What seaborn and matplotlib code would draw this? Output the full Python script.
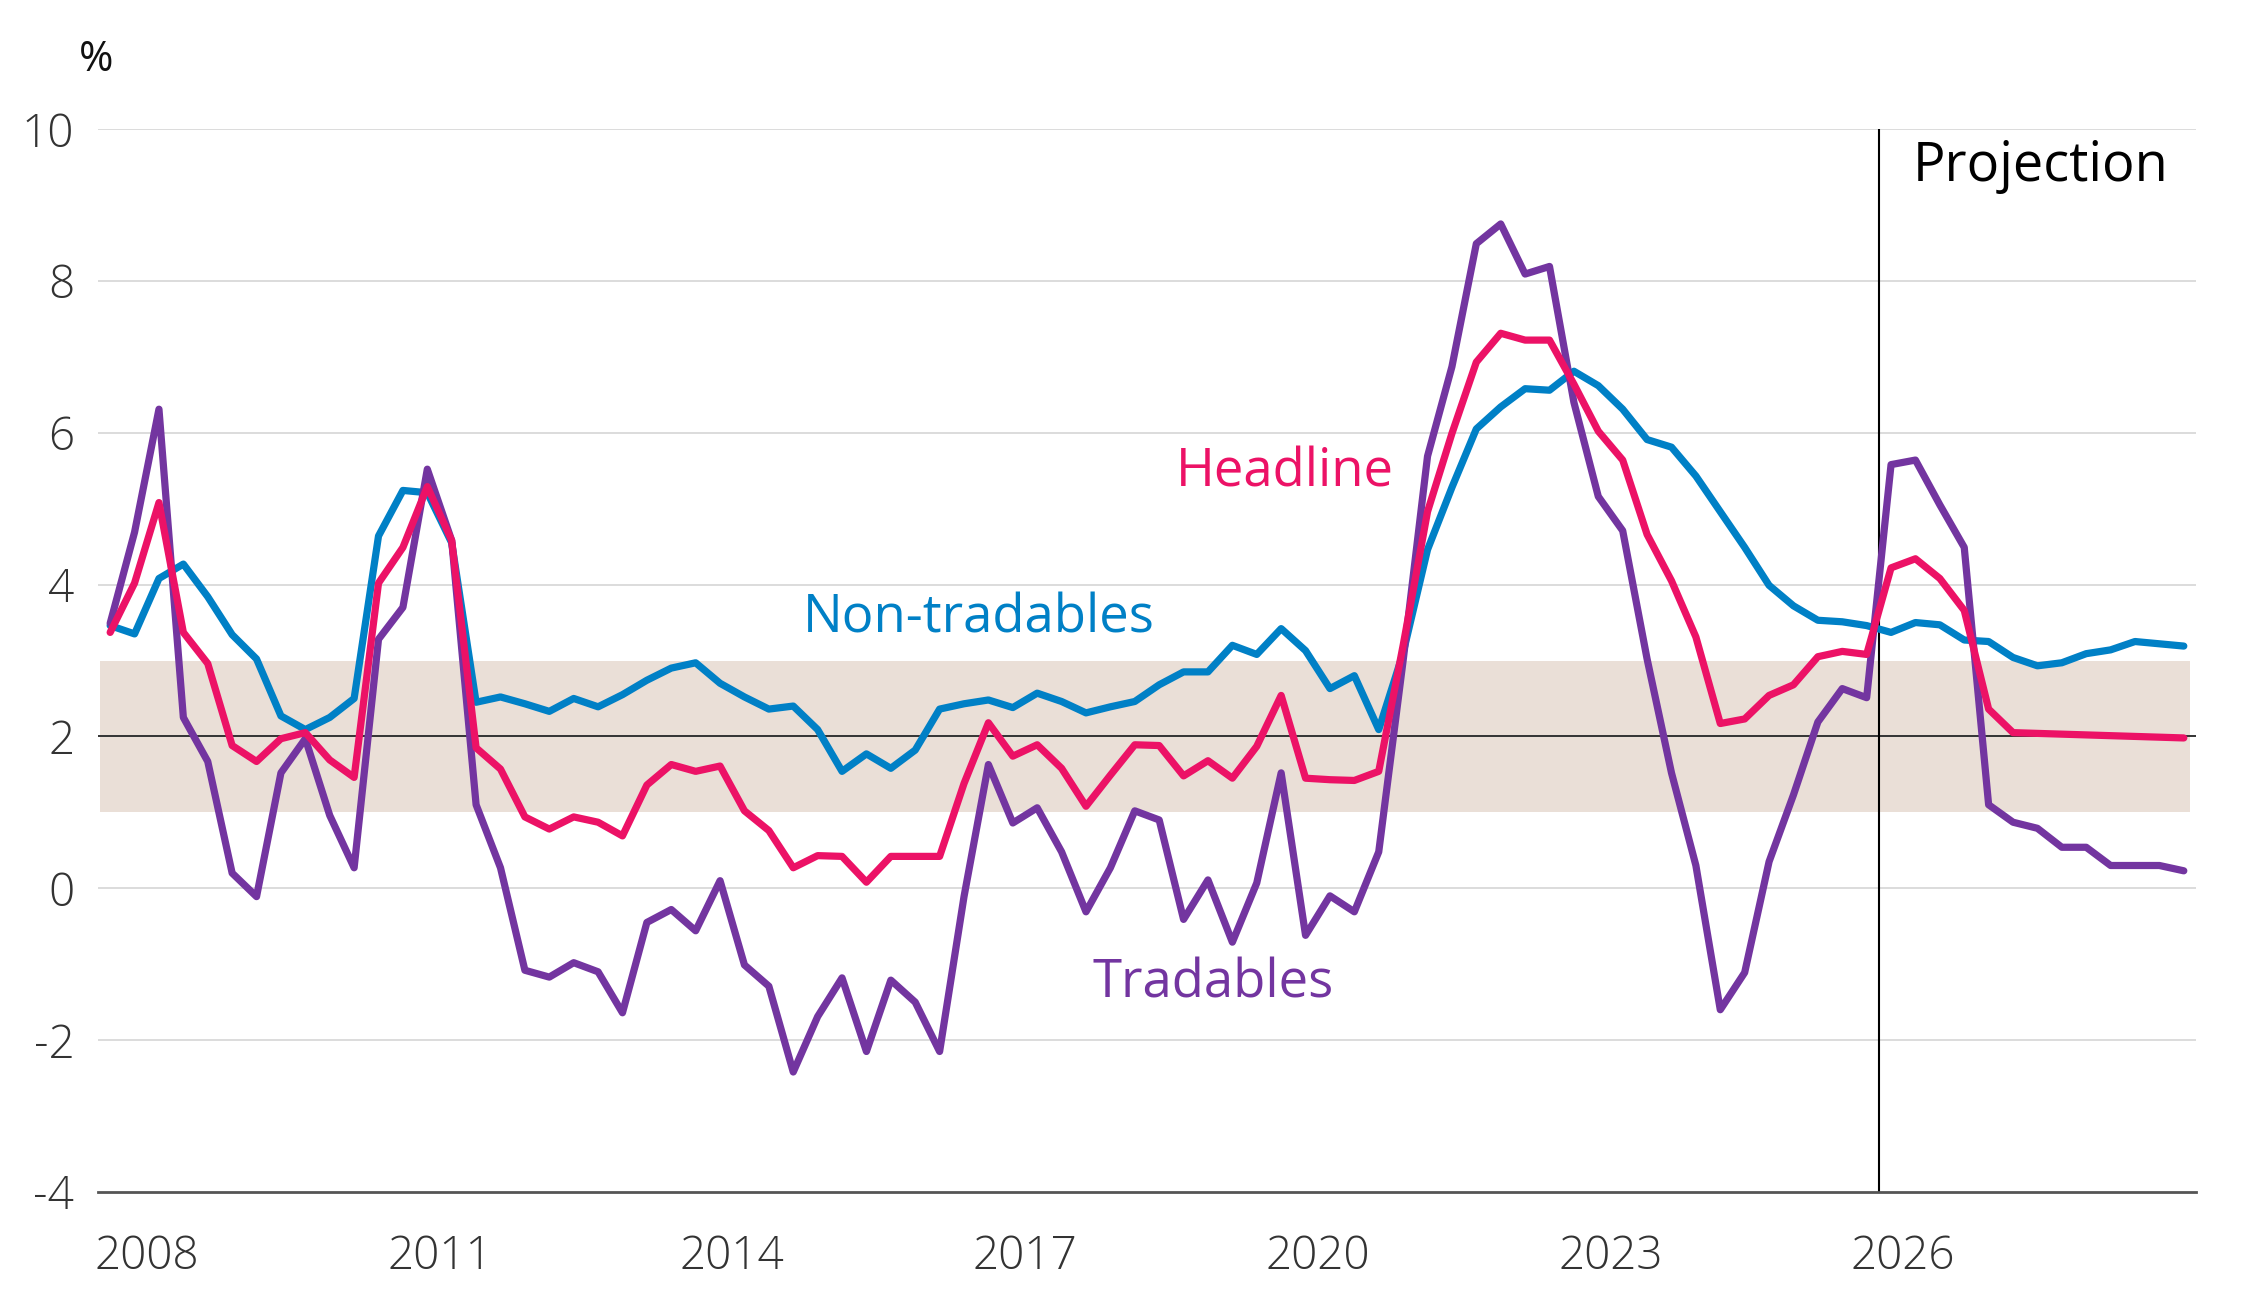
import numpy as np
import pandas as pd
import matplotlib
matplotlib.use("Agg")
import matplotlib.pyplot as plt
import seaborn as sns

sns.set_style("white")
plt.rcParams['font.family'] = ['Open Sans', 'DejaVu Sans']

# quarterly data, 2008Q1 .. 2029Q2
years = np.repeat(np.arange(2008, 2030), 4)[:86]
qtrs = np.tile([1, 2, 3, 4], 22)[:86]

non_tradables = [3.46, 3.35, 4.08, 4.27, 3.84, 3.34, 3.02, 2.27, 2.09, 2.25,
                 2.5, 4.64, 5.24, 5.21, 4.55, 2.45, 2.52, 2.43, 2.33, 2.5,
                 2.39, 2.55, 2.74, 2.9, 2.97, 2.7, 2.52, 2.36, 2.4, 2.09,
                 1.54, 1.77, 1.58, 1.82, 2.36, 2.43, 2.48, 2.38, 2.57, 2.46,
                 2.31, 2.39, 2.46, 2.68, 2.85, 2.85, 3.2, 3.08, 3.42, 3.13,
                 2.63, 2.8, 2.09, 3.1, 4.46, 5.28, 6.05, 6.34, 6.58, 6.56,
                 6.81, 6.62, 6.31, 5.91, 5.81, 5.43, 4.96, 4.49, 3.99, 3.72,
                 3.53, 3.51, 3.46, 3.37, 3.5, 3.47, 3.27, 3.25, 3.04, 2.93,
                 2.97, 3.09, 3.14, 3.25, 3.22, 3.19]
headline = [3.37, 4.02, 5.08, 3.37, 2.96, 1.88, 1.67, 1.97, 2.05, 1.69,
            1.46, 4.02, 4.49, 5.29, 4.58, 1.85, 1.57, 0.94, 0.78, 0.94,
            0.87, 0.69, 1.36, 1.63, 1.54, 1.61, 1.02, 0.76, 0.27, 0.43,
            0.42, 0.08, 0.42, 0.42, 0.42, 1.38, 2.18, 1.74, 1.89, 1.58,
            1.08, 1.49, 1.89, 1.88, 1.48, 1.68, 1.45, 1.87, 2.54, 1.45,
            1.43, 1.42, 1.54, 3.2, 4.96, 5.99, 6.93, 7.31, 7.22, 7.22,
            6.64, 6.02, 5.64, 4.66, 4.05, 3.31, 2.17, 2.23, 2.54, 2.68,
            3.05, 3.12, 3.08, 4.22, 4.34, 4.08, 3.66, 2.36, 2.05, 2.04,
            2.03, 2.02, 2.01, 2.0, 1.99, 1.98]
tradables = [3.49, 4.69, 6.31, 2.25, 1.67, 0.2, -0.11, 1.52, 1.97, 0.96,
             0.27, 3.28, 3.7, 5.52, 4.58, 1.1, 0.27, -1.08, -1.17, -0.98,
             -1.1, -1.64, -0.45, -0.28, -0.56, 0.1, -1.01, -1.29, -2.42, -1.69,
             -1.18, -2.15, -1.21, -1.5, -2.15, -0.11, 1.63, 0.86, 1.06, 0.48,
             -0.31, 0.27, 1.02, 0.9, -0.41, 0.11, -0.71, 0.07, 1.52, -0.62,
             -0.1, -0.31, 0.48, 3.0, 5.69, 6.87, 8.49, 8.75, 8.09, 8.19,
             6.4, 5.16, 4.71, 3.02, 1.52, 0.3, -1.6, -1.11, 0.35, 1.23,
             2.19, 2.63, 2.51, 5.58, 5.64, 5.05, 4.49, 1.1, 0.87, 0.79,
             0.54, 0.54, 0.3, 0.3, 0.3, 0.23]

series_names = ["Non-tradables", "Tradables", "Headline"]
colors = {"Non-tradables": "#0080C6", "Tradables": "#7335A0", "Headline": "#EC1266"}

x = years + (qtrs - 0.5) / 4
df = pd.DataFrame({"x": x, "Non-tradables": non_tradables,
                   "Tradables": tradables, "Headline": headline})
long = df.melt(id_vars="x", value_vars=series_names, var_name="series", value_name="value")

fig = plt.figure(figsize=(22.47, 13.1), dpi=100)
ax = fig.add_axes([0.0436, 0.0901, 0.9337, 0.8114])

# target band and reference lines
ax.axhspan(1, 3, xmin=0.001, xmax=0.997, color="#EADFD7", zorder=0, lw=0)
for yv in [-2, 0, 4, 6, 8, 10]:
    ax.axhline(yv, color="#DCDCDC", lw=1.4, zorder=0.5)
ax.axhline(2, color="#333333", lw=1.4, zorder=0.6)
ax.axvline(2026.25, color="black", lw=1.5, zorder=0.7)

sns.lineplot(data=long, x="x", y="value", hue="series", hue_order=series_names,
             palette=colors, linewidth=5.2, legend=False, sort=False, ax=ax)

ax.set_xlim(2008, 2029.5)
ax.set_ylim(-4, 10)
ax.set_xlabel("")
ax.set_ylabel("")

ax.set_yticks(range(-4, 11, 2))
ax.set_yticklabels([str(v) for v in range(-4, 11, 2)], fontweight="light")
ax.tick_params(axis="y", length=0, pad=17, labelsize=33, labelcolor="#333333")

ax.set_xticks(range(2008, 2030))
ax.set_xticklabels([])
ax.set_xticks([y + 0.5 for y in range(2008, 2027, 3)], minor=True)
ax.set_xticklabels([str(y) for y in range(2008, 2027, 3)], minor=True, fontweight="light")
ax.tick_params(axis="x", which="major", length=11, width=1.2, color="#555555", direction="out")
ax.tick_params(axis="x", which="minor", length=0, pad=30, labelsize=33, labelcolor="#333333")

for s in ["left", "right", "top"]:
    ax.spines[s].set_visible(False)
ax.spines["bottom"].set_color("#555555")
ax.spines["bottom"].set_linewidth(2)

ax.text(2020.16, 5.47, "Headline", color=colors["Headline"], fontsize=38, ha="center", va="center")
ax.text(2017.03, 3.55, "Non-tradables", color=colors["Non-tradables"], fontsize=38, ha="center", va="center")
ax.text(2019.43, -1.26, "Tradables", color=colors["Tradables"], fontsize=38, ha="center", va="center")
ax.text(2026.6, 9.5, "Projection", color="black", fontsize=39, ha="left", va="center")
fig.text(96 / 2247, 1 - 60 / 1310, "%", fontsize=30, color="#111111", ha="center", va="center")

fig.savefig("out.png", dpi=100)
